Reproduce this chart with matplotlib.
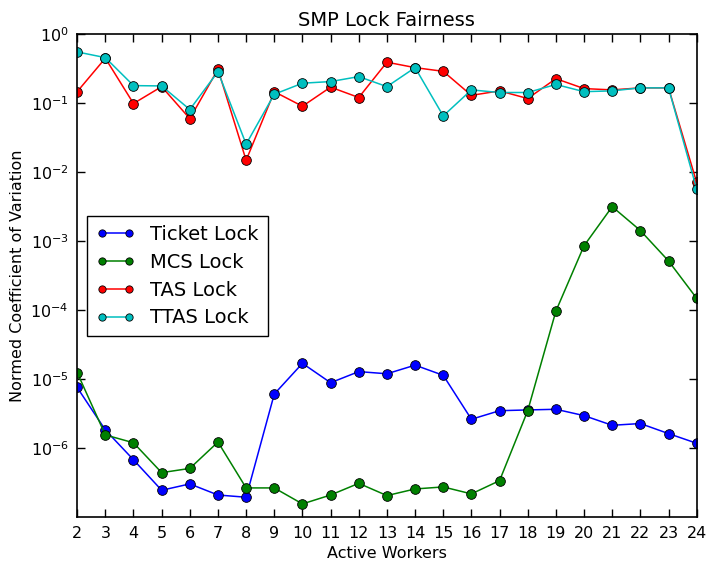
import numpy as np
import matplotlib
matplotlib.use("Agg")
from matplotlib import pyplot as plt
from matplotlib.ticker import NullLocator

workers = list(range(2, 25))

ticket = [7.6e-6, 1.84e-6, 6.8e-7, 2.46e-7, 3.04e-7, 2.1e-7, 1.95e-7, 6.1e-6,
          1.7e-5, 8.9e-6, 1.29e-5, 1.2e-5, 1.6e-5, 1.14e-5, 2.63e-6, 3.5e-6,
          3.59e-6, 3.67e-6, 2.97e-6, 2.15e-6, 2.28e-6, 1.63e-6, 1.18e-6]
mcs = [1.25e-5, 1.56e-6, 1.2e-6, 4.43e-7, 5.1e-7, 1.23e-6, 2.66e-7, 2.66e-7,
       1.56e-7, 2.1e-7, 3.1e-7, 2.06e-7, 2.57e-7, 2.75e-7, 2.18e-7, 3.39e-7,
       3.5e-6, 9.7e-5, 8.6e-4, 3.17e-3, 1.43e-3, 5.18e-4, 1.49e-4]
tas = [0.147, 0.449, 0.099, 0.174, 0.0598, 0.311, 0.0149, 0.147, 0.0904,
       0.171, 0.121, 0.393, 0.328, 0.29, 0.130, 0.151, 0.117, 0.227, 0.163,
       0.156, 0.167, 0.167, 0.0071]
ttas = [0.554, 0.458, 0.18, 0.178, 0.081, 0.287, 0.0255, 0.135, 0.195, 0.206,
        0.243, 0.174, 0.328, 0.0655, 0.156, 0.143, 0.143, 0.187, 0.147, 0.151,
        0.167, 0.167, 0.0057]
ytick_vals = [1e0, 1e-1, 1e-2, 1e-3, 1e-4, 1e-5, 1e-6]

series = [
    ("Ticket Lock", ticket, "#0000ff"),
    ("MCS Lock", mcs, "#008000"),
    ("TAS Lock", tas, "#ff0000"),
    ("TTAS Lock", ttas, "#00bfbf"),
]

plt.rcParams['mathtext.fontset'] = 'dejavusans'
plt.rcParams['font.size'] = 11

fig = plt.figure(figsize=(7.08, 5.61), dpi=100)
ax = fig.add_axes([0.109, 0.078, 0.875, 0.861])

for name, vals, col in series:
    ax.semilogy(workers, vals, '-o', color=col, markerfacecolor=col,
                markeredgecolor='black', markeredgewidth=0.6,
                markersize=7, linewidth=1.1, label=name)

ax.set_xlim(2, 24)
ax.set_ylim(1e-7, 1)
ax.set_xticks(workers)
ax.set_yticks(ytick_vals)
ax.yaxis.set_minor_locator(NullLocator())
ax.tick_params(direction='in', top=True, right=True, length=6, width=1,
               labelsize=11.5, pad=6)
for sp in ax.spines.values():
    sp.set_linewidth(1.2)

ax.set_title("SMP Lock Fairness", fontsize=14)
ax.set_xlabel("Active Workers", fontsize=11.5)
ax.set_ylabel("Normed Coefficient of Variation", fontsize=11.5)

leg = ax.legend(loc='upper left', bbox_to_anchor=(0.016, 0.623),
                borderaxespad=0, numpoints=2, markerscale=0.75, fontsize=14,
                fancybox=False, framealpha=1, edgecolor='black',
                handlelength=2.0, borderpad=0.45, labelspacing=0.45)
leg.get_frame().set_linewidth(1.0)

fig.savefig("out.png", dpi=100)
